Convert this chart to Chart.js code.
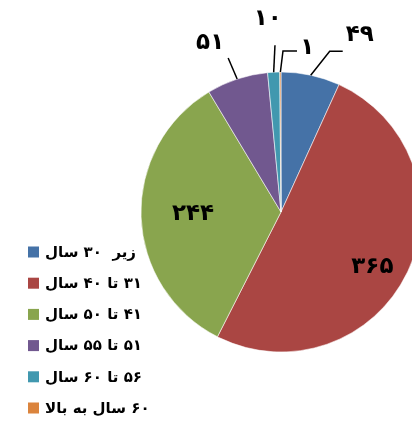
<!DOCTYPE html>
<html lang="fa">
<head>
<meta charset="utf-8">
<script src="https://cdn.jsdelivr.net/npm/chart.js@4/dist/chart.umd.min.js"></script>
<style>
  html, body { margin: 0; padding: 0; background: #fff; }
  #wrap { width: 412px; height: 421px; position: relative; }
</style>
</head>
<body>
<div id="wrap"><canvas id="c" width="412" height="421"></canvas></div>
<script>
// Age groups and head counts
const ageGroups = ['زیر  ۳۰ سال', '۳۱ تا ۴۰ سال', '۴۱ تا ۵۰ سال', '۵۱ تا ۵۵ سال', '۵۶ تا ۶۰ سال', '۶۰ سال به بالا'];
const headCounts = [49, 365, 244, 51, 10, 1];
const sliceColors = ['#4572A7', '#AA4643', '#89A54E', '#71588F', '#4198AF', '#DB843D'];

// Label placement: inner labels sit on the mid-angle ray; outer labels use a leader line
// whose points are offsets from the slice's outer edge.
const labelPlacement = [
  { leader: [[19, -24], [32, -24]], text: [49, -40] },
  { inner: 107, shift: [-5, 9] },
  { inner: 88, shift: [0, -1] },
  { leader: [[-9, -21]], text: [-27, -36] },
  { leader: [[1.3, -27]], text: [-6, -53] },
  { leader: [[2.6, -21], [16.6, -21]], text: [27, -24] }
];

const FONT = '"DejaVu Sans", sans-serif';
const faDigits = n => String(n).replace(/\d/g, d => '۰۱۲۳۴۵۶۷۸۹'[d]);

const valueLabels = {
  id: 'valueLabels',
  afterDatasetsDraw(chart) {
    const ctx = chart.ctx;
    const arcs = chart.getDatasetMeta(0).data;
    ctx.save();
    ctx.font = 'bold 23px ' + FONT;
    ctx.fillStyle = '#000';
    ctx.strokeStyle = '#000';
    ctx.lineWidth = 1.5;
    ctx.textAlign = 'center';
    ctx.textBaseline = 'middle';
    arcs.forEach((arc, i) => {
      const p = labelPlacement[i];
      const mid = (arc.startAngle + arc.endAngle) / 2;
      const txt = faDigits(headCounts[i]);
      if (p.inner !== undefined) {
        const x = arc.x + Math.cos(mid) * p.inner + p.shift[0];
        const y = arc.y + Math.sin(mid) * p.inner + p.shift[1];
        ctx.fillText(txt, x, y);
      } else {
        const ax = arc.x + Math.cos(mid) * arc.outerRadius;
        const ay = arc.y + Math.sin(mid) * arc.outerRadius;
        ctx.beginPath();
        ctx.moveTo(ax, ay);
        p.leader.forEach(pt => ctx.lineTo(ax + pt[0], ay + pt[1]));
        ctx.stroke();
        ctx.fillText(txt, ax + p.text[0], ay + p.text[1]);
      }
    });
    ctx.restore();
  }
};

const sideLegend = {
  id: 'sideLegend',
  afterDraw(chart) {
    const ctx = chart.ctx;
    const left = 28, top = 252, step = 31.2, box = 11;
    ctx.save();
    ctx.font = 'bold 15px ' + FONT;
    ctx.textBaseline = 'middle';
    ctx.direction = 'rtl';
    ctx.textAlign = 'left';
    chart.data.labels.forEach((lab, i) => {
      const y = top + i * step;
      ctx.fillStyle = sliceColors[i];
      ctx.fillRect(left, y - box / 2, box, box);
      ctx.fillStyle = '#000';
      ctx.fillText(lab, left + box + 6, y + 1);
    });
    ctx.restore();
  }
};

new Chart(document.getElementById('c'), {
  type: 'pie',
  data: {
    labels: ageGroups,
    datasets: [{
      data: headCounts,
      backgroundColor: sliceColors,
      borderColor: 'rgba(255,255,255,0.55)',
      borderWidth: 1
    }]
  },
  options: {
    responsive: false,
    animation: false,
    radius: 140,
    layout: { padding: { left: 150, right: 0, top: 3, bottom: 0 } },
    plugins: {
      legend: { display: false },
      tooltip: { enabled: false }
    }
  },
  plugins: [valueLabels, sideLegend]
});
</script>
</body>
</html>
